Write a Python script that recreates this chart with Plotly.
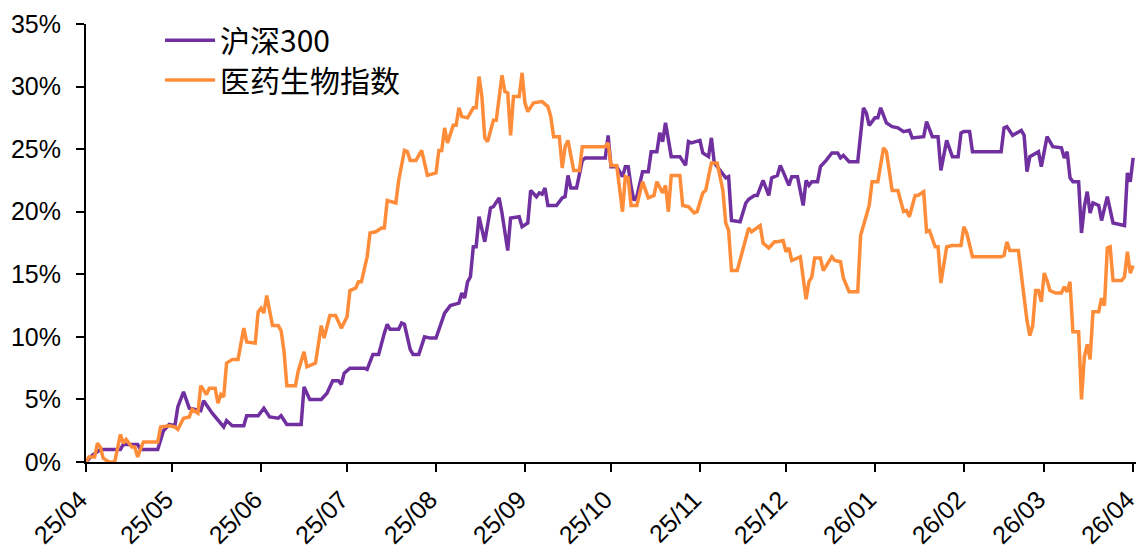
import plotly.graph_objects as go

# ---------------- data ----------------
hs300_dates = (
    ["2025-04-10", "2025-04-12", "2025-04-15", "2025-04-22", "2025-04-23", "2025-04-28", "2025-04-29"]
    + ["2025-05-05", "2025-05-07", "2025-05-09", "2025-05-11", "2025-05-12", "2025-05-14", "2025-05-16", "2025-05-20", "2025-05-21", "2025-05-24", "2025-05-28", "2025-05-29", "2025-05-31"]
    + ["2025-06-04", "2025-06-05", "2025-06-09", "2025-06-11", "2025-06-13", "2025-06-16", "2025-06-17", "2025-06-19", "2025-06-24", "2025-06-25", "2025-06-27"]
    + ["2025-07-01", "2025-07-03", "2025-07-05", "2025-07-07", "2025-07-08", "2025-07-09", "2025-07-11", "2025-07-16", "2025-07-17", "2025-07-19", "2025-07-21", "2025-07-23", "2025-07-24", "2025-07-25", "2025-07-28", "2025-07-29", "2025-07-30"]
    + ["2025-08-01", "2025-08-02", "2025-08-04", "2025-08-06", "2025-08-08", "2025-08-10", "2025-08-13", "2025-08-15", "2025-08-18", "2025-08-19", "2025-08-20", "2025-08-21", "2025-08-22", "2025-08-23", "2025-08-24", "2025-08-25", "2025-08-27", "2025-08-29", "2025-08-30"]
    + ["2025-09-01", "2025-09-02", "2025-09-04", "2025-09-05", "2025-09-08", "2025-09-09", "2025-09-11", "2025-09-12", "2025-09-14", "2025-09-15", "2025-09-16", "2025-09-17", "2025-09-18", "2025-09-21", "2025-09-23", "2025-09-24", "2025-09-25", "2025-09-26", "2025-09-28", "2025-09-30"]
    + ["2025-10-01", "2025-10-08", "2025-10-09", "2025-10-10", "2025-10-12", "2025-10-14", "2025-10-15", "2025-10-16", "2025-10-17", "2025-10-18", "2025-10-19", "2025-10-21", "2025-10-23", "2025-10-24", "2025-10-26", "2025-10-27", "2025-10-28", "2025-10-29", "2025-10-31"]
    + ["2025-11-03", "2025-11-05", "2025-11-06", "2025-11-07", "2025-11-10", "2025-11-11", "2025-11-13", "2025-11-14", "2025-11-15", "2025-11-17", "2025-11-19", "2025-11-20", "2025-11-21", "2025-11-24", "2025-11-26", "2025-11-27", "2025-11-29", "2025-11-30"]
    + ["2025-12-02", "2025-12-04", "2025-12-05", "2025-12-07", "2025-12-08", "2025-12-09", "2025-12-11", "2025-12-12", "2025-12-14", "2025-12-16", "2025-12-17", "2025-12-18", "2025-12-19", "2025-12-21", "2025-12-22", "2025-12-24", "2025-12-26", "2025-12-28", "2025-12-29", "2025-12-30"]
    + ["2026-01-01", "2026-01-04", "2026-01-06", "2026-01-07", "2026-01-08", "2026-01-10", "2026-01-11", "2026-01-12", "2026-01-14", "2026-01-16", "2026-01-18", "2026-01-20", "2026-01-22", "2026-01-23", "2026-01-27", "2026-01-28", "2026-01-30"]
    + ["2026-02-01", "2026-02-02", "2026-02-04", "2026-02-06", "2026-02-08", "2026-02-09", "2026-02-10", "2026-02-12", "2026-02-13", "2026-02-23", "2026-02-24", "2026-02-25", "2026-02-27"]
    + ["2026-03-02", "2026-03-03", "2026-03-04", "2026-03-05", "2026-03-08", "2026-03-09", "2026-03-11", "2026-03-13", "2026-03-16", "2026-03-17", "2026-03-18", "2026-03-19", "2026-03-20", "2026-03-22", "2026-03-23", "2026-03-24", "2026-03-25", "2026-03-26", "2026-03-27", "2026-03-29", "2026-03-30"]
    + ["2026-04-01", "2026-04-02", "2026-04-03", "2026-04-07", "2026-04-08", "2026-04-09", "2026-04-10"]
)
hs300_values = (
    [0.0, 0.5, 1.0, 1.0, 1.4, 1.4, 1.0]
    + [1.0, 2.5, 3.0, 2.9, 4.4, 5.6, 4.3, 4.1, 4.9, 3.9, 2.8, 3.3, 2.9]
    + [2.9, 3.7, 3.7, 4.3, 3.6, 3.5, 3.7, 3.0, 3.0, 6.0, 5.0]
    + [5.0, 5.5, 6.5, 6.5, 6.2, 7.1, 7.5, 7.5, 7.4, 8.6, 8.6, 10.3, 11.0, 10.6, 10.6, 11.1, 11.0]
    + [9.0, 8.6, 8.6, 10.0, 9.9, 9.9, 11.9, 12.5, 12.7, 13.5, 13.1, 14.4, 14.8, 17.2, 17.2, 19.6, 17.6, 20.3, 20.4]
    + [21.1, 19.9, 16.9, 19.5, 19.6, 18.8, 19.1, 21.7, 21.2, 21.5, 21.4, 21.9, 20.5, 20.5, 21.1, 21.2, 22.9, 21.9, 21.9, 24.1]
    + [24.3, 24.3, 26.1, 23.6, 23.6, 22.8, 23.6, 23.6, 22.0, 20.9, 21.2, 23.2, 23.2, 24.8, 24.8, 26.3, 25.6, 27.1, 24.4]
    + [24.4, 23.7, 25.6, 25.5, 25.7, 24.7, 24.4, 25.9, 23.9, 23.3, 22.7, 22.8, 19.3, 19.2, 20.7, 21.0, 21.3, 21.3]
    + [22.5, 21.3, 22.7, 22.9, 23.7, 23.2, 22.1, 22.8, 22.8, 20.5, 22.5, 22.1, 22.4, 22.4, 23.6, 24.1, 24.7, 24.7, 24.3, 24.5]
    + [24.0, 24.0, 28.3, 27.9, 26.9, 27.5, 27.5, 28.3, 27.1, 26.8, 26.7, 26.4, 26.5, 25.9, 26.0, 27.2, 26.0]
    + [26.0, 23.3, 25.7, 24.4, 24.4, 26.3, 26.4, 26.4, 24.8, 24.8, 26.7, 26.8, 26.1]
    + [26.5, 26.1, 23.2, 24.4, 24.8, 23.6, 26.0, 25.2, 25.1, 24.3, 24.8, 22.7, 22.4, 22.4, 18.3, 20.4, 21.6, 19.9, 20.7, 20.5, 19.3]
    + [21.2, 20.1, 19.1, 18.9, 23.1, 22.4, 24.3]
)

med_dates = (
    ["2025-04-10", "2025-04-11", "2025-04-13", "2025-04-14", "2025-04-15", "2025-04-16", "2025-04-18", "2025-04-20", "2025-04-22", "2025-04-23", "2025-04-24", "2025-04-26", "2025-04-27", "2025-04-28", "2025-04-30"]
    + ["2025-05-05", "2025-05-06", "2025-05-09", "2025-05-11", "2025-05-12", "2025-05-14", "2025-05-16", "2025-05-17", "2025-05-19", "2025-05-20", "2025-05-22", "2025-05-23", "2025-05-25", "2025-05-26", "2025-05-27", "2025-05-28", "2025-05-29", "2025-05-31"]
    + ["2025-06-02", "2025-06-04", "2025-06-05", "2025-06-08", "2025-06-09", "2025-06-10", "2025-06-11", "2025-06-12", "2025-06-14", "2025-06-16", "2025-06-17", "2025-06-18", "2025-06-19", "2025-06-22", "2025-06-23", "2025-06-25", "2025-06-26", "2025-06-29"]
    + ["2025-07-01", "2025-07-02", "2025-07-04", "2025-07-06", "2025-07-08", "2025-07-10", "2025-07-11", "2025-07-13", "2025-07-14", "2025-07-15", "2025-07-17", "2025-07-18", "2025-07-20", "2025-07-22", "2025-07-23", "2025-07-24", "2025-07-27", "2025-07-28", "2025-07-30", "2025-07-31"]
    + ["2025-08-01", "2025-08-03", "2025-08-05", "2025-08-07", "2025-08-10", "2025-08-11", "2025-08-12", "2025-08-13", "2025-08-14", "2025-08-16", "2025-08-17", "2025-08-18", "2025-08-19", "2025-08-21", "2025-08-23", "2025-08-24", "2025-08-25", "2025-08-26", "2025-08-27", "2025-08-28", "2025-08-30", "2025-08-31"]
    + ["2025-09-02", "2025-09-03", "2025-09-04", "2025-09-05", "2025-09-06", "2025-09-08", "2025-09-09", "2025-09-10", "2025-09-11", "2025-09-13", "2025-09-16", "2025-09-18", "2025-09-19", "2025-09-20", "2025-09-22", "2025-09-23", "2025-09-24", "2025-09-25", "2025-09-27", "2025-09-29", "2025-09-30"]
    + ["2025-10-08", "2025-10-09", "2025-10-10", "2025-10-12", "2025-10-14", "2025-10-15", "2025-10-16", "2025-10-17", "2025-10-19", "2025-10-21", "2025-10-23", "2025-10-25", "2025-10-26", "2025-10-28", "2025-10-29", "2025-10-30", "2025-10-31"]
    + ["2025-11-03", "2025-11-04", "2025-11-06", "2025-11-08", "2025-11-09", "2025-11-11", "2025-11-12", "2025-11-14", "2025-11-16", "2025-11-18", "2025-11-19", "2025-11-20", "2025-11-21", "2025-11-23", "2025-11-27", "2025-11-28"]
    + ["2025-12-01", "2025-12-02", "2025-12-04", "2025-12-06", "2025-12-07", "2025-12-09", "2025-12-10", "2025-12-11", "2025-12-12", "2025-12-15", "2025-12-17", "2025-12-18", "2025-12-19", "2025-12-20", "2025-12-22", "2025-12-23", "2025-12-26", "2025-12-27", "2025-12-29", "2025-12-30"]
    + ["2026-01-01", "2026-01-04", "2026-01-05", "2026-01-07", "2026-01-08", "2026-01-09", "2026-01-11", "2026-01-13", "2026-01-14", "2026-01-16", "2026-01-18", "2026-01-20", "2026-01-21", "2026-01-22", "2026-01-24", "2026-01-25", "2026-01-27", "2026-01-28", "2026-01-29", "2026-01-31"]
    + ["2026-02-01", "2026-02-02", "2026-02-04", "2026-02-06", "2026-02-09", "2026-02-10", "2026-02-11", "2026-02-13", "2026-02-23", "2026-02-24", "2026-02-25", "2026-02-26"]
    + ["2026-03-01", "2026-03-04", "2026-03-05", "2026-03-06", "2026-03-07", "2026-03-08", "2026-03-09", "2026-03-10", "2026-03-11", "2026-03-12", "2026-03-14", "2026-03-16", "2026-03-17", "2026-03-18", "2026-03-19", "2026-03-20", "2026-03-22", "2026-03-23", "2026-03-24", "2026-03-25", "2026-03-26", "2026-03-27", "2026-03-29", "2026-03-30", "2026-03-31"]
    + ["2026-04-01", "2026-04-02", "2026-04-03", "2026-04-06", "2026-04-07", "2026-04-08", "2026-04-09", "2026-04-10"]
)
med_values = (
    [0.0, 0.4, 0.4, 1.5, 1.2, 0.3, 0.0, 0.0, 2.2, 1.5, 1.8, 1.2, 1.2, 0.4, 1.6]
    + [1.6, 2.8, 2.9, 2.8, 2.6, 3.5, 3.6, 4.2, 3.9, 6.1, 5.4, 5.9, 5.9, 4.7, 5.4, 5.2, 7.9, 8.2]
    + [8.2, 10.7, 9.6, 9.5, 12.0, 12.3, 11.9, 13.3, 10.9, 10.9, 10.5, 8.9, 6.1, 6.1, 7.3, 8.8, 7.6, 7.9]
    + [10.9, 9.9, 11.7, 11.7, 10.7, 11.6, 13.7, 13.9, 14.4, 14.4, 16.4, 18.3, 18.4, 18.7, 18.7, 20.9, 20.7, 22.5, 24.9, 24.8]
    + [24.1, 24.1, 24.9, 22.9, 23.1, 24.9, 24.9, 26.7, 25.5, 26.9, 26.9, 28.3, 27.6, 27.5, 28.3, 28.3, 30.8, 29.2, 25.9, 25.6, 27.3, 27.3]
    + [30.9, 29.6, 29.5, 26.1, 29.2, 29.2, 31.1, 28.7, 28.0, 28.7, 28.8, 28.4, 27.6, 26.0, 26.0, 23.5, 25.2, 25.7, 23.3, 23.3, 25.2]
    + [25.2, 25.5, 23.7, 23.7, 20.0, 22.8, 22.7, 20.5, 20.5, 22.4, 21.1, 21.3, 22.4, 21.5, 22.1, 20.0, 22.9]
    + [22.9, 20.5, 20.4, 19.9, 20.0, 21.5, 21.7, 23.9, 23.9, 21.7, 19.1, 18.5, 15.3, 15.3, 18.7, 18.4]
    + [18.9, 17.5, 17.1, 17.6, 17.6, 17.7, 16.8, 17.1, 16.1, 16.4, 13.0, 14.4, 14.8, 16.3, 16.3, 15.3, 16.4, 16.1, 16.0, 14.7]
    + [13.6, 13.6, 18.1, 19.7, 20.5, 22.4, 22.4, 25.1, 24.8, 21.7, 21.7, 20.0, 20.1, 19.6, 21.3, 21.3, 21.6, 18.4, 18.5, 17.2]
    + [17.2, 14.3, 17.2, 17.3, 17.3, 18.8, 18.3, 16.4, 16.4, 16.5, 17.6, 16.9]
    + [16.9, 11.3, 10.1, 10.9, 13.7, 13.7, 12.8, 15.1, 14.5, 13.7, 13.5, 13.5, 14.0, 13.6, 14.4, 10.4, 10.4, 5.0, 8.4, 9.4, 8.2, 12.0, 12.0, 13.1, 12.5]
    + [17.1, 17.2, 14.5, 14.5, 14.8, 16.8, 15.1, 15.7]
)

series_names = ["沪深300", "医药生物指数"]
series_colors = ["#7030A0", "#FF8C38"]
y_ticks = [0, 5, 10, 15, 20, 25, 30, 35]

assert len(hs300_dates) == len(hs300_values), (len(hs300_dates), len(hs300_values))
assert len(med_dates) == len(med_values), (len(med_dates), len(med_values))

# ---------------- figure ----------------
fig = go.Figure()
fig.add_trace(go.Scatter(
    x=hs300_dates, y=hs300_values, mode="lines", name=series_names[0],
    line=dict(color=series_colors[0], width=3.5), legend="legend",
))
fig.add_trace(go.Scatter(
    x=med_dates, y=med_values, mode="lines", name=series_names[1],
    line=dict(color=series_colors[1], width=3.5), legend="legend2",
))

tick_font = dict(family="Liberation Sans, Arial, sans-serif", size=25, color="black")
legend_font = dict(family="Noto Sans CJK SC, sans-serif", size=30, color="black")

fig.update_layout(
    width=1139, height=558,
    margin=dict(l=86, r=3, t=24, b=96),
    paper_bgcolor="white", plot_bgcolor="white",
    showlegend=True,
    legend=dict(
        x=0.0705, y=0.963, xanchor="left", yanchor="middle",
        bgcolor="rgba(0,0,0,0)", font=legend_font, itemwidth=50,
    ),
    legend2=dict(
        x=0.0705, y=0.872, xanchor="left", yanchor="middle",
        bgcolor="rgba(0,0,0,0)", font=legend_font, itemwidth=50,
    ),
    xaxis=dict(
        type="date",
        range=["2025-04-10", "2026-04-11"],
        tick0="2025-04-10", dtick="M1", tickformat="%y/%m",
        tickangle=-45,
        showgrid=False, zeroline=False,
        showline=True, linecolor="black", linewidth=2,
        ticks="outside", ticklen=8, tickwidth=2, tickcolor="black",
        tickfont=tick_font, automargin=False,
        ticklabeloverflow="allow", ticklabelstandoff=3, ticklabelshift=-6,
    ),
    yaxis=dict(
        range=[0, 35],
        tickvals=y_ticks,
        ticktext=[f"{v}%" for v in y_ticks],
        showgrid=False, zeroline=False,
        showline=True, linecolor="black", linewidth=2,
        ticks="outside", ticklen=8, tickwidth=2, tickcolor="black",
        tickfont=tick_font, automargin=False,
        ticklabelstandoff=10,
    ),
)

fig.write_html(
    "out.html",
    config={"displayModeBar": False},
    post_script="document.body.style.margin='0';document.body.style.padding='0';",
)
